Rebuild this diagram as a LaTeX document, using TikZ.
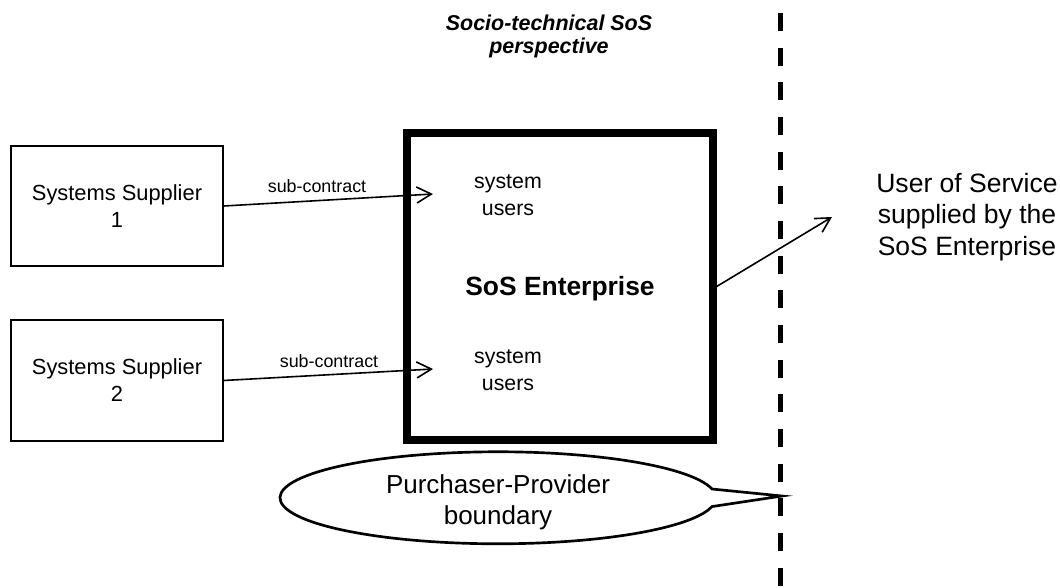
\documentclass[tikz,border=0pt]{standalone}
\usepackage{fontspec}
\setmainfont{Liberation Sans}
\usetikzlibrary{arrows.meta}
\begin{document}
\begin{tikzpicture}[x=0.75pt,y=-0.75pt,
  supbox/.style={draw,line width=0.9pt,minimum width=159pt,align=center,inner sep=0pt,
    font=\fontsize{16.4}{20.25}\selectfont},
  entbox/.style={draw,line width=5.5pt,minimum width=229.5pt,minimum height=230.25pt,inner sep=0pt},
  lbl/.style={align=center,inner sep=0pt},
  conn/.style={line width=1.2pt,-{Straight Barb[length=11pt,width=12pt]}},
  boundary/.style={line width=3.75pt,dash pattern=on 13.5pt off 12.5pt},
  callout/.style={line width=2pt,fill=white,line join=miter}
]
\useasboundingbox (0,0) rectangle (1060,587);

% supplier boxes
\node[supbox,minimum height=90pt] (s1) at (117,206) {Systems Supplier\\1};
\node[supbox,minimum height=90.75pt] (s2) at (117,380.5) {Systems Supplier\\2};

% enterprise box
\node[entbox] (ent) at (560,286.5) {};
\node[lbl,font=\fontsize{16}{20.25}\selectfont] (u1) at (508,195) {system\\users};
\node[lbl,font=\fontsize{16}{20.25}\selectfont] (u2) at (508,370) {system\\users};
\node[lbl,font=\bfseries\fontsize{19.8}{23}\selectfont] (entl) at (560,289) {SoS Enterprise};

% title
\node[lbl,font=\bfseries\itshape\fontsize{16.1}{17.25}\selectfont] (title) at (549,36) {Socio-technical SoS\\perspective};

% right text
\node[lbl,font=\fontsize{19.9}{23.6}\selectfont] (usr) at (967,217) {User of Service\\supplied by the\\SoS Enterprise};

% connectors
\coordinate (t1) at (433,194);
\coordinate (t2) at (433,369);
\coordinate (t3) at (832,217);
\draw[conn] (s1.east) -- (t1);
\draw[conn] (s2.east) -- (t2);
\draw[conn] (ent.east) -- (t3);
\node[lbl,font=\fontsize{13.4}{16}\selectfont] (sc1) at (317,186.5) {sub-contract};
\node[lbl,font=\fontsize{13.4}{16}\selectfont] (sc2) at (329,361.5) {sub-contract};

% boundary line
\coordinate (d1) at (780,13);
\coordinate (d2) at (780,587);
\draw[boundary] (d1) -- (d2);

% callout
\coordinate (tip) at (782,496);
\draw[callout] (712,489) arc[start angle=-11,end angle=-349,x radius=218,y radius=46] -- (tip) -- cycle;
\node[lbl,font=\fontsize{19.5}{23.25}\selectfont] (cl) at (498,502) {Purchaser-Provider\\boundary};
\end{tikzpicture}
\end{document}
